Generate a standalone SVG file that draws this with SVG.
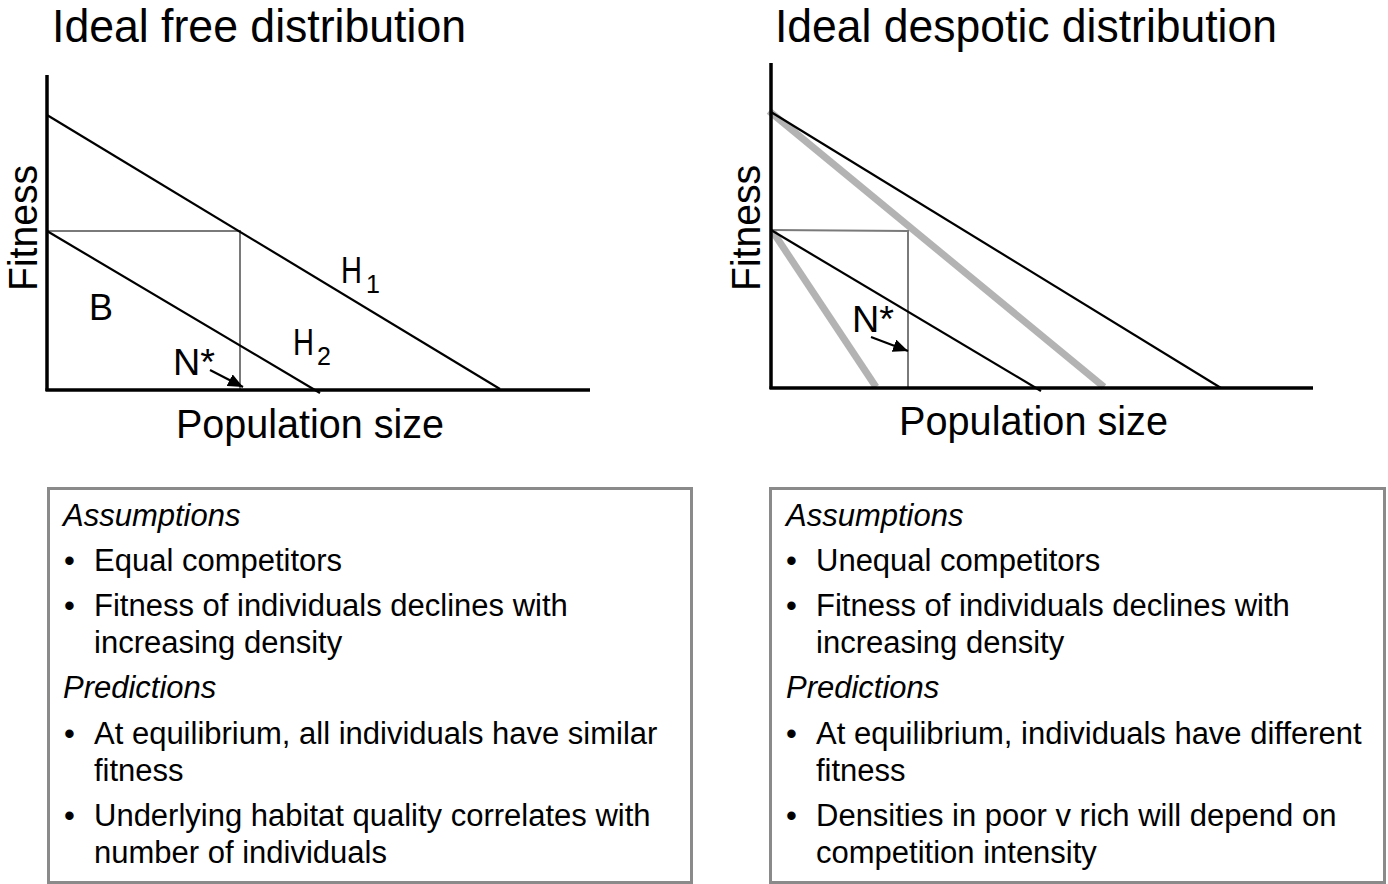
<svg xmlns="http://www.w3.org/2000/svg" width="1388" height="884" viewBox="0 0 1388 884">
<style>
text{font-family:"Liberation Sans",Arial,sans-serif;fill:#000}
.title{font-size:46px}
.axl{font-size:40px}
.lbl{font-size:37px}
.sub{font-size:25px}
.body{font-size:31px}
.it{font-style:italic}
.axis{stroke:#000;stroke-width:3.5;fill:none}
.ln{stroke:#000;stroke-width:2.2;fill:none}
.gthin{stroke:#7a7a7a;stroke-width:2;fill:none}
.gthick{stroke:#b3b3b3;stroke-width:7;fill:none}
.box{fill:#fff;stroke:#8a8a8a;stroke-width:3}
.arr{stroke:#000;stroke-width:2.2;fill:none}
</style>
<defs>
<marker id="ah" viewBox="0 0 15 13" refX="15" refY="6.5" markerWidth="15" markerHeight="13" orient="auto" markerUnits="userSpaceOnUse">
<path d="M0,0 L15,6.5 L0,13 z" fill="#000"/>
</marker>
</defs>
<rect width="1388" height="884" fill="#fff"/>

<g id="left-chart">
<text class="title" x="52" y="42" textLength="414" lengthAdjust="spacingAndGlyphs">Ideal free distribution</text>
<text class="axl" transform="translate(37,228) rotate(-90)" text-anchor="middle" textLength="126" lengthAdjust="spacingAndGlyphs">Fitness</text>
<text class="axl" x="176" y="438" textLength="268" lengthAdjust="spacingAndGlyphs">Population size</text>
<polyline class="gthin" points="47,231 240,231 240,389"/>
<line class="ln" x1="47" y1="115" x2="500" y2="389"/>
<line class="ln" x1="47" y1="231" x2="320" y2="393"/>
<line class="axis" x1="47" y1="75" x2="47" y2="391"/>
<line class="axis" x1="45.5" y1="390" x2="590" y2="390"/>
<text class="lbl" x="89" y="320" textLength="24" lengthAdjust="spacingAndGlyphs">B</text>
<text class="lbl" x="341" y="283" textLength="21" lengthAdjust="spacingAndGlyphs">H</text><text class="sub" x="366" y="293">1</text>
<text class="lbl" x="293" y="355" textLength="21" lengthAdjust="spacingAndGlyphs">H</text><text class="sub" x="317" y="365">2</text>
<text class="lbl" x="173" y="375" textLength="42" lengthAdjust="spacingAndGlyphs">N*</text>
</g>

<g id="right-chart">
<text class="title" x="775" y="42" textLength="502" lengthAdjust="spacingAndGlyphs">Ideal despotic distribution</text>
<text class="axl" transform="translate(760,228) rotate(-90)" text-anchor="middle" textLength="126" lengthAdjust="spacingAndGlyphs">Fitness</text>
<text class="axl" x="899" y="435" textLength="269" lengthAdjust="spacingAndGlyphs">Population size</text>
<line class="gthick" x1="769" y1="111" x2="1104" y2="387"/>
<line class="gthick" x1="773" y1="232" x2="876" y2="387"/>
<polyline class="gthin" points="771,230 908,231 908,388"/>
<line class="ln" x1="771" y1="112" x2="1221" y2="388"/>
<line class="ln" x1="771" y1="230" x2="1041" y2="391"/>
<line class="axis" x1="771" y1="63" x2="771" y2="389"/>
<line class="axis" x1="769.5" y1="388" x2="1313" y2="388"/>
<text class="lbl" x="852" y="332" textLength="42" lengthAdjust="spacingAndGlyphs">N*</text>
</g>

<g id="connectors">
<line class="arr" x1="210" y1="370" x2="243" y2="387" marker-end="url(#ah)"/>
<line class="arr" x1="871" y1="337" x2="908" y2="351" marker-end="url(#ah)"/>
</g>

<g id="left-box">
<rect class="box" x="48.5" y="488.5" width="643" height="394"/>
<text class="body it" x="63" y="526">Assumptions</text>
<text class="body" x="64" y="571">•</text><text class="body" x="94" y="571">Equal competitors</text>
<text class="body" x="64" y="616">•</text><text class="body" x="94" y="616">Fitness of individuals declines with</text>
<text class="body" x="94" y="653">increasing density</text>
<text class="body it" x="63" y="698">Predictions</text>
<text class="body" x="64" y="744">•</text><text class="body" x="94" y="744">At equilibrium, all individuals have similar</text>
<text class="body" x="94" y="781">fitness</text>
<text class="body" x="64" y="826">•</text><text class="body" x="94" y="826">Underlying habitat quality correlates with</text>
<text class="body" x="94" y="863">number of individuals</text>
</g>

<g id="right-box">
<rect class="box" x="770.5" y="488.5" width="614" height="394"/>
<text class="body it" x="786" y="526">Assumptions</text>
<text class="body" x="786" y="571">•</text><text class="body" x="816" y="571">Unequal competitors</text>
<text class="body" x="786" y="616">•</text><text class="body" x="816" y="616">Fitness of individuals declines with</text>
<text class="body" x="816" y="653">increasing density</text>
<text class="body it" x="786" y="698">Predictions</text>
<text class="body" x="786" y="744">•</text><text class="body" x="816" y="744">At equilibrium, individuals have different</text>
<text class="body" x="816" y="781">fitness</text>
<text class="body" x="786" y="826">•</text><text class="body" x="816" y="826">Densities in poor v rich will depend on</text>
<text class="body" x="816" y="863">competition intensity</text>
</g>
</svg>
